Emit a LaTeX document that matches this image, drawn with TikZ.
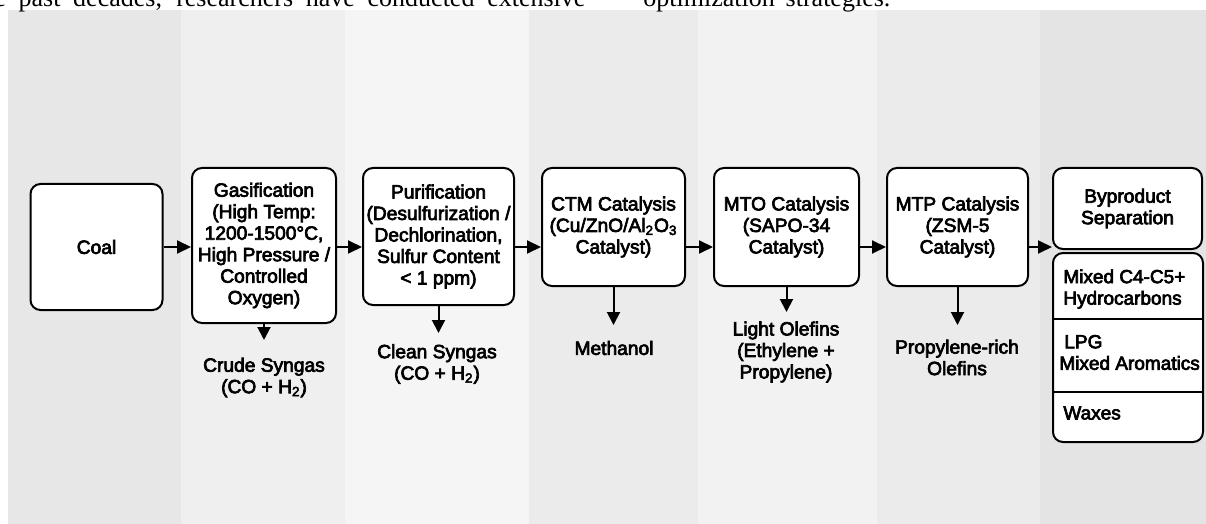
\documentclass[tikz,border=0pt]{standalone}
\usepackage{fontspec}
\setmainfont{Liberation Serif}
\newfontfamily\diagfont[FakeBold=3.5]{Liberation Sans}
\usetikzlibrary{arrows.meta}

\definecolor{bgA}{HTML}{E7E7E7}
\definecolor{bgB}{HTML}{EFEFEF}
\definecolor{bgC}{HTML}{F5F5F5}
\definecolor{bgD}{HTML}{EBEBEB}
\definecolor{bgE}{HTML}{F2F2F2}
\definecolor{bgF}{HTML}{EBEBEB}
\definecolor{bgG}{HTML}{E4E4E4}

\tikzset{
  box/.style={draw, line width=1pt, rounded corners=5pt, fill=white, align=center,
    inner sep=0pt, font=\diagfont\fontsize{9.6pt}{10.75pt}\selectfont},
  lbl/.style={align=center, inner sep=0pt, font=\diagfont\fontsize{9.6pt}{10.75pt}\selectfont},
  item/.style={align=left, inner sep=0pt, font=\diagfont\fontsize{9.5pt}{10.75pt}\selectfont},
  arr/.style={line width=1pt, -{Triangle[length=7pt,width=6.5pt]}},
  arrdown/.style={line width=1pt, -{Triangle[length=6.5pt,width=6.5pt]}},
}

\begin{document}
\begin{tikzpicture}[x=0.5pt,y=-0.5pt]
\useasboundingbox (0,0) rectangle (1206,524);
\clip (0,0) rectangle (1206,524);

% 背景条纹
\fill[bgA] (8,10) rectangle (181,524);
\fill[bgB] (181,10) rectangle (345,524);
\fill[bgC] (345,10) rectangle (529,524);
\fill[bgD] (529,10) rectangle (698,524);
\fill[bgE] (698,10) rectangle (877,524);
\fill[bgF] (877,10) rectangle (1040,524);
\fill[bgG] (1040,10) rectangle (1206,524);

% 顶部截断的正文
\node[anchor=base west, inner sep=0pt, font=\fontsize{13pt}{15pt}\selectfont] (txtl) at (-6,7)
  {\makebox[295.5pt][s]{e past decades, researchers have conducted extensive}};
\node[anchor=base west, inner sep=0pt, font=\fontsize{13pt}{15pt}\selectfont] (txtr) at (643,7)
  {\makebox[123.5pt][s]{optimization strategies.}};

% 工艺步骤
\node[box, minimum width=66pt, minimum height=63pt] (coal) at (96.5,247) {Coal};
\node[box, minimum width=72pt, minimum height=77.5pt] (gas) at (264,245.5)
  {Gasification\\(High Temp:\\1200-1500°C,\\High Pressure /\\Controlled\\Oxygen)};
\node[box, minimum width=75.5pt, minimum height=68.5pt] (pur) at (438.5,236.5)
  {Purification\\(Desulfurization /\\Dechlorination,\\Sulfur Content\\< 1 ppm)};
\node[box, minimum width=71.5pt, minimum height=59pt] (ctm) at (613.5,227)
  {CTM Catalysis\\(Cu/ZnO/Al\textsubscript{2}O\textsubscript{3}\\Catalyst)};
\node[box, minimum width=72.5pt, minimum height=59pt] (mto) at (786.5,227)
  {MTO Catalysis\\(SAPO-34\\Catalyst)};
\node[box, minimum width=70.5pt, minimum height=59pt] (mtp) at (957.5,227)
  {MTP Catalysis\\(ZSM-5\\Catalyst)};
\node[box, minimum width=74.5pt, minimum height=40.5pt] (bypr) at (1127.5,208.5)
  {Byproduct\\Separation};

% 副产品列表
\node[box, minimum width=75pt, minimum height=94.5pt] (list) at (1128,347.5) {};
\draw[line width=1pt] (list.west |- 0,319) -- (list.east |- 0,319);
\draw[line width=1pt] (list.west |- 0,392) -- (list.east |- 0,392);
\node[item, anchor=west] (hc) at (1063,289) {Mixed C4-C5+\\Hydrocarbons};
\node[item, anchor=west] (lpg) at (1059,352.5) {\hspace*{2.5pt}LPG\\Mixed Aromatics};
\node[item, anchor=west] (wax) at (1063,413) {Waxes};

% 主流程箭头
\foreach \a/\b in {coal/gas, gas/pur, pur/ctm, ctm/mto, mto/mtp, mtp/bypr}
    \draw[arr] (\a.east |- coal.east) -- (\b.west |- coal.east);

% 产物
\coordinate (gas-out) at (264,340);
\coordinate (pur-out) at (438.5,333);
\coordinate (ctm-out) at (613.5,325);
\coordinate (mto-out) at (786.5,312);
\coordinate (mtp-out) at (957.5,325);
\foreach \n in {gas,pur,ctm,mto,mtp}
    \draw[arrdown] (\n.south) -- (\n-out);

\node[lbl] (crude) at (264,377.5) {Crude Syngas\\(CO + H\textsubscript{2})};
\node[lbl] (clean) at (437,364) {Clean Syngas\\(CO + H\textsubscript{2})};
\node[lbl] (meoh) at (614,348) {Methanol};
\node[lbl] (olef) at (786,352) {Light Olefins\\(Ethylene +\\Propylene)};
\node[lbl] (prop) at (957,357.5) {Propylene-rich\\Olefins};
\end{tikzpicture}
\end{document}
